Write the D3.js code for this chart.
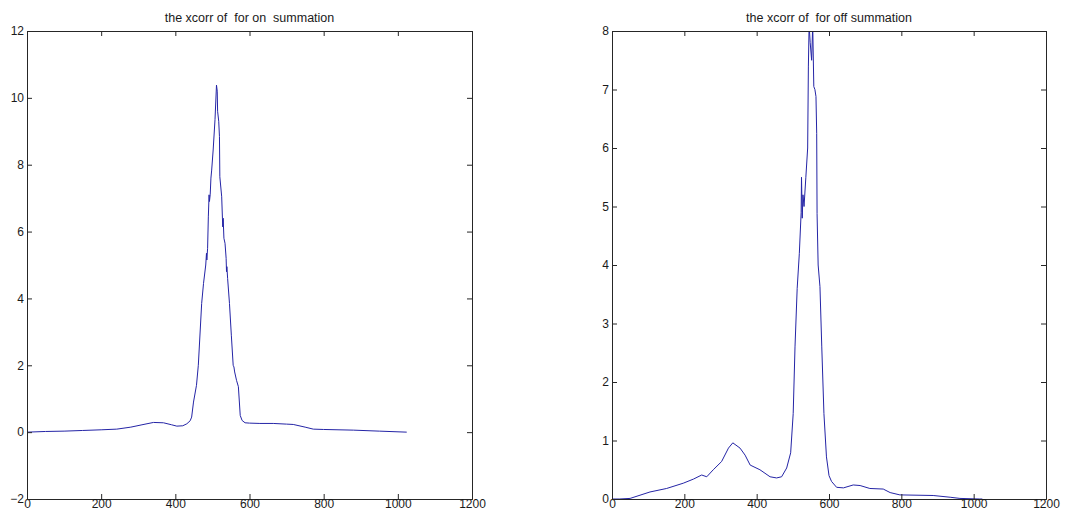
<!DOCTYPE html>
<html>
<head>
<meta charset="utf-8">
<script src="https://cdn.jsdelivr.net/npm/d3@7/dist/d3.min.js"></script>
<style>
  html, body { margin: 0; padding: 0; background: #fff; }
  svg { display: block; }
  text { font-family: "Liberation Sans", Arial, sans-serif; fill: #1a1a1a; }
</style>
</head>
<body>
<svg id="chart" width="1074" height="515"></svg>
<script>
// ---- Data ----
const onLag = [0,50,100,150,200,242,280,310,341,368,390,404,420,431,440,444,449,457,462,471,476,482,484,485,487,489,491,492,494,496,498,502,507,511,513,514,517,519,520,525,527,528,529,531,534,537,538,539,541,546,551,556,558,560,565,570,575,580,588,600,628,664,700,718,750,772,800,880,950,1024];
const onValue = [0,0.02,0.03,0.05,0.07,0.09,0.15,0.22,0.29,0.28,0.22,0.18,0.19,0.25,0.34,0.45,0.9,1.4,2.0,3.85,4.45,5.0,5.35,5.15,5.5,6.44,7.1,6.9,7.1,7.6,7.84,8.44,9.35,10.38,10.2,9.6,9.3,8.84,7.64,7.04,6.4,6.14,6.4,5.8,5.65,5.2,4.8,4.95,4.6,3.85,2.9,2.0,1.95,1.8,1.55,1.36,0.5,0.35,0.28,0.27,0.26,0.26,0.24,0.23,0.15,0.09,0.08,0.06,0.03,0];

const offLag = [0,20,50,105,151,197,225,248,262,280,303,322,334,354,368,382,409,437,455,469,483,494,501,506,512,518,523,524,526,528,531,536,541,543,545,548,552,555,558,561,564,566,567,570,575,580,586,593,600,607,621,640,667,686,713,750,769,796,888,935,962,1017,1024];
const offValue = [0,0,0.01,0.12,0.18,0.27,0.34,0.41,0.38,0.5,0.64,0.87,0.96,0.87,0.75,0.58,0.5,0.38,0.36,0.38,0.53,0.79,1.46,2.6,3.6,4.2,4.9,5.5,4.8,5.2,5.0,5.5,6.0,7.4,8.1,7.8,7.5,8.1,7.05,7.0,6.88,6.25,4.88,4.0,3.63,2.6,1.46,0.72,0.4,0.3,0.2,0.19,0.24,0.23,0.18,0.17,0.11,0.07,0.06,0.03,0.01,0,0];

const xTicks = [0,200,400,600,800,1000,1200];
const onYTicks = [-2,0,2,4,6,8,10,12];
const offYTicks = [0,1,2,3,4,5,6,7,8];
const titles = ["the xcorr of  for on  summation", "the xcorr of  for off summation"];

// ---- Drawing ----
const svg = d3.select("#chart");
const lineColor = "#2424a6";
const axisColor = "#262626";

const panels = [
  { left: 27, right: 472, top: 31, bottom: 499, yDomain: [-2, 12], yTicks: onYTicks, lag: onLag, val: onValue, title: titles[0], id: "c0" },
  { left: 612, right: 1046, top: 31, bottom: 499, yDomain: [0, 8], yTicks: offYTicks, lag: offLag, val: offValue, title: titles[1], id: "c1" }
];

panels.forEach(p => {
  const x = d3.scaleLinear().domain([0, 1200]).range([p.left, p.right]);
  const y = d3.scaleLinear().domain(p.yDomain).range([p.bottom, p.top]);
  const g = svg.append("g");
  const tickLen = 5;

  svg.append("clipPath").attr("id", p.id).append("rect")
    .attr("x", p.left).attr("y", p.top).attr("width", p.right - p.left).attr("height", p.bottom - p.top);

  // Data line
  const pts = p.lag.map((d, i) => [d, p.val[i]]);
  g.append("path")
    .datum(pts)
    .attr("clip-path", `url(#${p.id})`)
    .attr("fill", "none")
    .attr("stroke", lineColor)
    .attr("stroke-width", 1)
    .attr("d", d3.line().x(d => x(d[0])).y(d => y(d[1])));

  // Axes: bottom, left with inward ticks, and mirrored top/right
  const bottomAx = d3.axisBottom(x).tickValues(xTicks).tickSize(-tickLen).tickPadding(3).tickFormat(d3.format("d"));
  const topAx = d3.axisTop(x).tickValues(xTicks).tickSize(-tickLen).tickFormat("");
  const leftAx = d3.axisLeft(y).tickValues(p.yTicks).tickSize(-tickLen).tickPadding(3).tickFormat(d3.format("d"));
  const rightAx = d3.axisRight(y).tickValues(p.yTicks).tickSize(-tickLen).tickFormat("");

  const gb = g.append("g").attr("transform", `translate(0,${p.bottom})`).call(bottomAx);
  const gt = g.append("g").attr("transform", `translate(0,${p.top})`).call(topAx);
  const gl = g.append("g").attr("transform", `translate(${p.left},0)`).call(leftAx);
  const gr = g.append("g").attr("transform", `translate(${p.right},0)`).call(rightAx);

  [gb, gt, gl, gr].forEach(a => {
    a.selectAll("path.domain").attr("stroke", axisColor).attr("stroke-width", 1);
    a.selectAll(".tick line").attr("stroke", axisColor);
    a.selectAll("text").style("font-family", "'Liberation Sans', Arial, sans-serif").style("font-size", "12px").attr("fill", "#1a1a1a");
  });
  gb.selectAll(".tick text").attr("dy", "0.5em");

  // Title
  svg.append("text")
    .attr("x", (p.left + p.right) / 2)
    .attr("y", 22)
    .attr("text-anchor", "middle")
    .style("font-size", "12.5px")
    .style("white-space", "pre")
    .attr("xml:space", "preserve")
    .text(p.title);
});
</script>
</body>
</html>
